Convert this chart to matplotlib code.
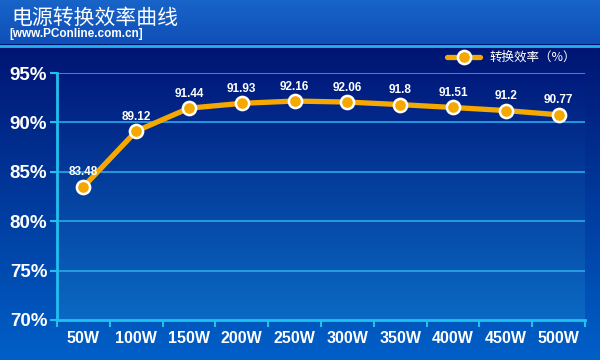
import numpy as np
import matplotlib.pyplot as plt
from matplotlib.colors import LinearSegmentedColormap

plt.rcParams['font.family'] = ['Noto Sans CJK SC', 'DejaVu Sans']

# data
loads = ['50W', '100W', '150W', '200W', '250W', '300W', '350W', '400W', '450W', '500W']
efficiency = [83.48, 89.12, 91.44, 91.93, 92.16, 92.06, 91.8, 91.51, 91.2, 90.77]
y_ticks = [70, 75, 80, 85, 90, 95]

fig = plt.figure(figsize=(6, 3.6), dpi=100)

# full background gradient (navy at top -> blue at bottom)
bg = fig.add_axes([0, 0, 1, 1])
bg_cmap = LinearSegmentedColormap.from_list('bg', ['#0060c8', '#000a66'])
grad = np.linspace(0, 1, 256).reshape(-1, 1)
bg.imshow(grad, cmap=bg_cmap, aspect='auto', extent=[0, 1, 0, 1], origin='lower')
# header band
hdr_cmap = LinearSegmentedColormap.from_list('hdr', ['#0f4fb8', '#1864c8'])
bg.imshow(grad, cmap=hdr_cmap, aspect='auto', extent=[0, 1, 1 - 44 / 360, 1], origin='lower')
bg.axhline(1 - 46 / 360, color='#22b4f0', lw=2)
bg.set_xlim(0, 1)
bg.set_ylim(0, 1)
bg.axis('off')

fig.text(11 / 600, 1 - 18 / 360, '电源转换效率曲线', color='white', fontsize=15, va='center')
fig.text(9 / 600, 1 - 34 / 360, '[www.PConline.com.cn]', color='white', fontsize=8.5,
         fontweight='bold', va='center', family='Liberation Sans')

# plot area
ax = fig.add_axes([57 / 600, 40 / 360, 528 / 600, 247 / 360])
x = np.arange(len(loads))
ax.set_xlim(-0.5, len(loads) - 0.5)
ax.set_ylim(70, 95)
area_cmap = LinearSegmentedColormap.from_list('area', ['#0a6ac4', '#001a7c'])
ax.imshow(grad, cmap=area_cmap, aspect='auto', extent=[-0.5, len(loads) - 0.5, 70, 95],
          origin='lower', zorder=0)

for yv in y_ticks[1:]:
    ax.axhline(yv, color='#2aa8e8', lw=1.2, zorder=1)

ax.plot(x, efficiency, color='#f5a800', lw=3.8, marker='o', markersize=9.5,
        markerfacecolor='#f5a800', markeredgecolor='white', markeredgewidth=1.8,
        zorder=3, label='转换效率（%）', solid_capstyle='round')
for xi, v in zip(x, efficiency):
    ax.text(xi, v + 0.85, f'{v:g}', color='white', fontsize=8.5, fontweight='bold',
            ha='center', va='bottom', family='Liberation Sans', zorder=4)

ax.set_yticks(y_ticks)
ax.set_yticklabels([f'{v}%' for v in y_ticks], color='white', fontsize=13.5,
                   fontweight='bold', family='Liberation Sans')
ax.set_xticks(x)
ax.set_xticklabels(loads, color='white', fontsize=11.5, fontweight='bold',
                   family='Liberation Sans')
ax.set_xticks(np.arange(-0.5, len(loads)), minor=True)
ax.tick_params(axis='x', which='major', length=0, pad=8)
ax.tick_params(axis='x', which='minor', length=5, width=1.5, color='#22c0f0')
ax.tick_params(axis='y', length=5, width=1.5, color='#22c0f0', pad=2)

for s in ['top', 'right']:
    ax.spines[s].set_visible(False)
for s in ['left', 'bottom']:
    ax.spines[s].set_color('#22c0f0')
    ax.spines[s].set_linewidth(2)

leg = ax.legend(loc='lower right', bbox_to_anchor=(1.0, 1.0), frameon=False,
                fontsize=9, labelcolor='white', handlelength=2.6, borderaxespad=0.3)

fig.savefig('out.png', dpi=100)
